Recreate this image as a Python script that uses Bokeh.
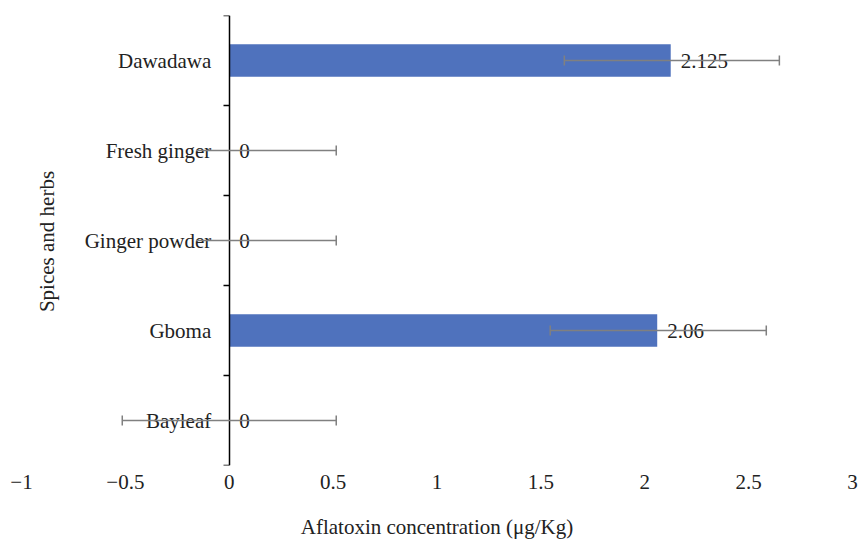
from bokeh.plotting import figure
from bokeh.models import FixedTicker, Whisker, ColumnDataSource, Label, LabelSet, Range1d
from bokeh.embed import file_html
from bokeh.resources import INLINE
import math

categories = ["Bayleaf", "Gboma", "Ginger powder", "Fresh ginger", "Dawadawa"]
values = [0, 2.06, 0, 0, 2.125]
err_lower = [-0.515, 1.545, -0.16, -0.16, 1.613]
err_upper = [0.515, 2.585, 0.515, 0.515, 2.648]
lower_cap = [True, True, False, False, True]
value_labels = ["0", "2.06", "0", "0", "2.125"]
x_ticks = [-1, -0.5, 0, 0.5, 1, 1.5, 2, 2.5, 3]
x_tick_labels = ["\u22121", "\u22120.5", "0", "0.5", "1", "1.5", "2", "2.5", "3"]

FONT = "Liberation Serif"
FS = "21px"

pos = [i + 0.5 for i in range(len(categories))]

p = figure(width=861, height=541, x_range=Range1d(-1, 3), y_range=Range1d(0, len(categories)),
           output_backend="svg", toolbar_location=None,
           min_border_left=21, min_border_right=9, min_border_top=15, min_border_bottom=76)
p.outline_line_color = None
p.xgrid.visible = False
p.ygrid.visible = False
p.background_fill_color = "white"
p.border_fill_color = "white"

src = ColumnDataSource(dict(y=pos, v=values, lo=err_lower, hi=err_upper, lab=value_labels, cat=categories))
p.hbar(y="y", right="v", left=0, height=0.36, source=src, color="#4f72bd", line_color=None)

# x axis
xa = p.xaxis[0]
xa.ticker = FixedTicker(ticks=x_ticks)
xa.major_label_overrides = {t: l for t, l in zip(x_ticks, x_tick_labels)}
xa.axis_line_color = None
xa.major_tick_line_color = None
xa.minor_tick_line_color = None
xa.major_label_standoff = 3
xa.major_label_text_font = FONT
xa.major_label_text_font_size = FS
xa.major_label_text_color = "#222222"
xa.axis_label = "Aflatoxin concentration (\u03bcg/Kg)"
xa.axis_label_text_font = FONT
xa.axis_label_text_font_size = FS
xa.axis_label_text_font_style = "normal"
xa.axis_label_text_color = "#222222"
xa.axis_label_standoff = 23

# y axis at x=0
ya = p.yaxis[0]
ya.fixed_location = 0
ya.ticker = FixedTicker(ticks=pos, minor_ticks=list(range(len(categories) + 1)))
ya.major_label_overrides = {t: c for t, c in zip(pos, categories)}
ya.major_tick_line_color = None
ya.major_tick_out = 0
ya.major_tick_in = 0
ya.minor_tick_out = 6
ya.minor_tick_in = 0
ya.minor_tick_line_color = "black"
ya.minor_tick_line_width = 1.5
ya.axis_line_color = "black"
ya.axis_line_width = 1.5
ya.major_label_standoff = 12
ya.major_label_text_font = FONT
ya.major_label_text_font_size = FS
ya.major_label_text_color = "#222222"

# error bars
for cap in (True, False):
    idx = [i for i in range(len(categories)) if lower_cap[i] == cap]
    s = ColumnDataSource(dict(y=[pos[i] for i in idx], lo=[err_lower[i] for i in idx], hi=[err_upper[i] for i in idx]))
    w = Whisker(source=s, base="y", lower="lo", upper="hi", dimension="width",
                line_color="#808080", line_width=1.5, level="overlay")
    w.upper_head.size = 10
    w.upper_head.line_color = "#808080"
    w.upper_head.line_width = 1.5
    if cap:
        w.lower_head.size = 10
        w.lower_head.line_color = "#808080"
        w.lower_head.line_width = 1.5
    else:
        w.lower_head = None
    p.add_layout(w)

labels = LabelSet(x="v", y="y", text="lab", source=src, x_offset=10, text_align="left",
                  text_baseline="middle", text_font=FONT, text_font_size=FS, text_color="#222222")
p.add_layout(labels)

p.add_layout(Label(x=25, y=224, x_units="screen", y_units="screen", text="Spices and herbs",
                   angle=math.pi / 2, text_align="center", text_baseline="middle",
                   text_font=FONT, text_font_size=FS, text_color="#222222"))

open("out.html", "w").write(file_html(p, INLINE))
